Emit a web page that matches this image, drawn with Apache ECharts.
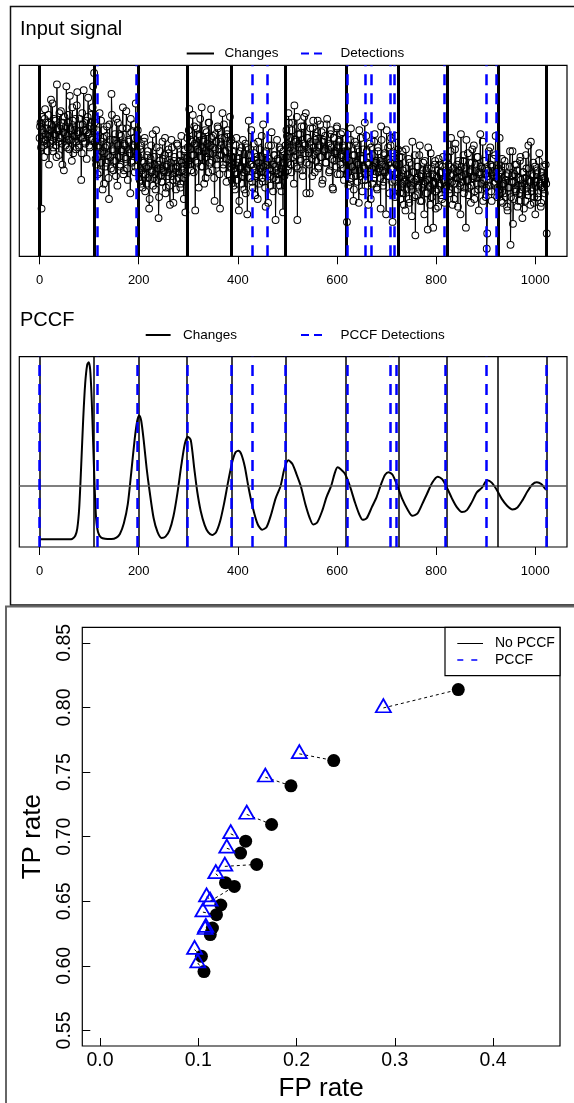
<!DOCTYPE html>
<html><head><meta charset="utf-8">
<script src="https://cdn.jsdelivr.net/npm/echarts@6/dist/echarts.min.js"></script>
<style>html,body{margin:0;padding:0;background:#fff}#c{width:574px;height:1103px}</style>
</head><body><div id="c"></div>
<script>
// ---------- data ----------
// input signal: samples at even x (0,2,...,1022) and at odd x (1,3,...,1023)
const signalEven = [
62,70,25,66,58,72,61,67,55,74,63,59,69,80,57,64,71,52,66,60,75,62,68,48,65,73,58,89,63,70,56,67,61,78,54,66,72,60,86,64,57,69,40,75,62,66,59,71,65,83,58,68,74,61,89,
96,60,48,66,52,58,44,71,55,62,38,57,49,68,53,30,61,46,74,55,50,64,42,59,70,52,47,63,56,78,45,58,51,67,40,60,54,72,49,57,62,44,80,53,66,
52,40,58,45,36,49,62,43,38,55,47,30,51,44,64,41,48,35,57,46,20,50,42,39,60,45,53,33,47,44,56,37,49,61,42,28,52,46,40,58,44,50,36,63,47,41,55,23,48,
62,50,77,56,45,60,53,68,24,58,49,64,55,72,47,57,61,38,66,52,59,44,70,54,77,50,63,41,56,60,48,67,53,25,58,62,46,69,55,51,64,43,57,73,52,
40,52,46,35,58,43,49,24,55,47,38,61,44,50,33,57,46,71,41,53,48,36,59,45,42,52,30,49,56,44,63,39,47,54,26,50,43,58,46,37,65,48,41,53,19,45,51,40,57,44,34,49,55,42,
58,66,49,75,55,62,44,70,52,79,60,47,19,64,57,51,68,45,59,73,54,33,62,56,48,67,58,42,71,53,61,50,65,46,57,69,52,38,60,55,63,49,72,56,44,58,66,51,35,62,54,47,68,57,60,43,64,52,58,40,55,
50,18,44,58,39,67,47,53,35,60,42,49,56,28,45,62,40,51,47,70,43,55,37,48,59,30,46,53,41,64,49,36,57,44,50,25,61,45,39,54,47,66,42,51,33,58,46,18,52,40,63,48,44,
36,48,30,42,55,33,39,24,46,38,51,28,41,35,60,44,31,11,40,47,37,53,29,43,36,49,22,39,45,33,57,40,27,46,38,15,42,50,34,41,26,48,37,44,30,52,39,35,43,
44,52,35,47,62,39,43,30,56,41,48,26,45,37,64,42,50,33,46,15,40,54,36,44,28,49,41,58,34,45,38,52,24,43,47,35,60,40,46,31,4,42,55,37,48,29,44,51,39,63,41,36,
40,62,33,45,28,38,50,31,42,24,36,47,6,39,55,30,43,35,48,26,41,33,52,37,20,44,38,29,46,34,58,40,27,43,36,49,31,22,39,45,33,54,37,28,42,35,47,40,38
];
const signalOdd = [
68,57,73,60,52,77,64,59,70,48,66,82,61,55,72,63,58,90,67,53,62,76,59,70,45,64,68,57,74,61,84,66,50,71,60,63,56,79,65,58,72,62,54,69,87,60,66,51,73,64,57,70,62,78,67,
70,51,62,43,57,75,49,60,35,66,54,47,63,58,41,69,52,85,56,45,61,50,72,37,58,64,48,55,67,43,59,52,76,46,61,56,33,65,50,58,69,47,55,62,51,
44,56,38,50,43,60,34,47,53,41,25,49,58,45,37,52,43,66,40,48,31,55,46,39,51,44,62,36,48,42,54,27,46,57,40,50,44,35,59,47,41,53,38,49,45,30,56,43,51,
57,66,48,61,53,74,44,59,50,67,56,36,63,52,78,47,60,55,41,65,54,70,49,58,62,45,57,29,64,51,68,56,43,60,53,75,48,62,55,39,66,51,59,47,61,
48,37,55,44,62,40,51,29,46,57,42,50,35,59,45,22,53,41,48,66,39,47,54,32,50,43,60,38,46,52,41,69,44,36,55,48,28,51,42,58,45,34,53,47,40,61,43,50,37,56,46,23,49,44,
52,63,45,70,57,48,66,55,38,61,53,73,46,59,64,50,56,42,68,58,75,49,62,54,33,60,51,67,57,44,63,55,71,47,58,52,65,40,61,56,49,69,53,59,45,64,57,36,62,50,55,67,43,58,61,48,53,65,46,57,51,
43,55,37,50,61,41,47,29,53,45,58,39,48,66,42,51,34,56,46,40,63,49,27,52,44,57,38,47,60,43,50,35,55,46,41,68,48,37,53,44,22,51,57,42,49,62,39,46,54,31,48,43,56,
41,33,52,38,45,27,40,56,35,43,30,49,37,21,44,39,53,32,41,47,36,58,42,29,45,38,50,33,40,14,46,37,54,31,43,39,48,25,42,35,51,38,44,32,47,40,28,45,37,
39,48,33,55,42,27,46,38,59,44,35,50,41,22,47,39,53,36,43,61,40,32,49,45,37,56,42,30,48,41,52,35,44,64,38,46,29,50,43,36,12,45,40,57,34,47,42,38,53,44,31,46,
35,44,29,51,38,33,47,40,26,43,36,55,31,42,17,39,48,34,45,37,29,50,40,35,44,25,41,53,36,32,46,39,60,34,42,28,47,37,43,31,50,38,26,44,36,41,33,48,12
];
const changes = [0, 110, 200, 297, 387, 496, 618, 724, 822, 925, 1023];
const detections = [116, 196, 430, 460, 621, 656, 670, 708, 715, 817, 902, 921];
const pccfDetections = [0, 116, 197, 298, 386, 430, 496, 620, 708, 719, 818, 902, 1022];
const pccfX = [0,10,20,30,40,50,60,66,72,76,80,84,88,92,96,99,102,105,108,111,114,118,124,132,145,155,162,170,178,185,192,197,201,205,210,216,222,230,238,246,254,262,270,278,286,293,299,305,312,318,325,333,340,348,356,364,372,380,388,395,401,407,414,421,430,440,449,458,467,476,486,494,502,510,518,527,536,545,552,560,570,579,588,595,601,608,616,626,636,645,652,660,670,680,690,697,704,712,722,732,742,752,762,772,782,792,803,812,822,832,842,852,862,872,882,892,903,912,922,932,943,954,964,974,984,994,1003,1012,1020,1023];
const pccfY = [0,0,0,0,0,0,0,0.003,0.02,0.06,0.18,0.42,0.68,0.88,0.985,1.0,0.96,0.8,0.55,0.3,0.12,0.04,0.01,0.003,0.002,0.01,0.03,0.09,0.2,0.38,0.57,0.67,0.70,0.67,0.56,0.40,0.27,0.12,0.04,0.008,0.015,0.05,0.13,0.26,0.42,0.54,0.58,0.56,0.40,0.27,0.16,0.08,0.04,0.024,0.04,0.1,0.2,0.32,0.43,0.49,0.5,0.48,0.41,0.3,0.18,0.085,0.054,0.07,0.14,0.23,0.30,0.40,0.446,0.425,0.37,0.30,0.2,0.12,0.083,0.095,0.16,0.24,0.30,0.37,0.407,0.395,0.37,0.30,0.21,0.14,0.11,0.12,0.18,0.24,0.32,0.365,0.379,0.365,0.3,0.225,0.17,0.133,0.145,0.2,0.26,0.32,0.354,0.34,0.29,0.23,0.18,0.154,0.165,0.21,0.265,0.29,0.333,0.32,0.28,0.23,0.19,0.169,0.18,0.22,0.27,0.31,0.322,0.312,0.285,0.279];
const pccfThreshold = 0.3;
const signalTicks = [0, 200, 400, 600, 800, 1000];

const noPccfFP = [0.3645,0.2378,0.1943,0.1746,0.1482,0.143,0.1594,0.1277,0.1229,0.1367,0.1185,0.1144,0.1122,0.1032,0.1058];
const noPccfTP = [0.8138,0.7589,0.7393,0.7094,0.6965,0.6873,0.6785,0.6644,0.6471,0.6615,0.6396,0.6293,0.6242,0.6074,0.5956];
const pccfFP = [0.2883,0.2028,0.1682,0.1493,0.133,0.129,0.127,0.1178,0.1084,0.112,0.1047,0.1077,0.107,0.0962,0.0995];
const pccfTP = [0.7996,0.7641,0.746,0.7172,0.7022,0.691,0.677,0.6713,0.6533,0.650,0.6416,0.6296,0.628,0.6126,0.6022];
const fpTicks = [0, 0.1, 0.2, 0.3, 0.4];
const tpTicks = [0.55, 0.6, 0.65, 0.7, 0.75, 0.8, 0.85];

// ---------- chart ----------
const FONT = 'Liberation Sans, Arial, Helvetica, sans-serif';
const chart = echarts.init(document.getElementById('c'), null, {renderer: 'canvas'});
const R_PT = 3.4; // circle radius used to leave gaps like R's type="b"

const signalData = [];
for (let i = 0; i < signalEven.length; i++) {
  signalData.push([2 * i, signalEven[i]]);
  if (i < signalOdd.length) signalData.push([2 * i + 1, signalOdd[i]]);
}

function vlines(name, xs, xi, color, width, type, z) {
  return {
    name: name, type: 'line', xAxisIndex: xi, yAxisIndex: xi, data: [], z: z,
    markLine: {
      silent: true, symbol: ['none', 'none'], label: {show: false}, animation: false,
      lineStyle: {color: color, width: width, type: type, opacity: 1},
      emphasis: {disabled: true},
      data: xs.map(v => ({xAxis: v}))
    }
  };
}

const signalAxisX = (gi) => ({
  gridIndex: gi, type: 'value', min: -40.92, max: 1063.92,
  axisLine: {show: false, onZero: false}, splitLine: {show: false},
  axisTick: {show: true, length: 8, customValues: signalTicks, lineStyle: {color: '#000', width: 1}},
  axisLabel: {show: true, customValues: signalTicks, fontSize: 13, color: '#000', margin: 18, fontFamily: FONT, formatter: v => String(v)}
});

const option = {
  animation: false,
  backgroundColor: '#fff',
  grid: [
    {left: 19.3, top: 65.3, width: 547.7, height: 191, show: true, borderColor: '#000', borderWidth: 1.2, backgroundColor: 'transparent'},
    {left: 19.3, top: 356.7, width: 547.7, height: 190.3, show: true, borderColor: '#000', borderWidth: 1.2, backgroundColor: 'transparent'},
    {left: 82.3, top: 627.3, width: 477.7, height: 419.4, show: true, borderColor: '#000', borderWidth: 1.2, backgroundColor: 'transparent'}
  ],
  xAxis: [
    signalAxisX(0),
    signalAxisX(1),
    {
      gridIndex: 2, type: 'value', min: -0.018, max: 0.468,
      axisLine: {show: false, onZero: false}, splitLine: {show: false},
      axisTick: {show: true, inside: true, length: 8, customValues: fpTicks, lineStyle: {color: '#000'}},
      axisLabel: {customValues: fpTicks, fontSize: 19.5, color: '#000', margin: 5, fontFamily: FONT, formatter: v => v.toFixed(1)},
      name: 'FP rate', nameLocation: 'middle', nameGap: 30,
      nameTextStyle: {fontSize: 26, color: '#000', fontFamily: FONT}
    }
  ],
  yAxis: [
    {gridIndex: 0, type: 'value', min: 0, max: 100, show: false, axisLine: {onZero: false}},
    {gridIndex: 1, type: 'value', min: -0.0435, max: 1.0316, show: false, axisLine: {onZero: false}},
    {
      gridIndex: 2, type: 'value', min: 0.538, max: 0.862,
      axisLine: {show: false, onZero: false}, splitLine: {show: false},
      axisTick: {show: true, inside: true, length: 8, customValues: tpTicks, lineStyle: {color: '#000'}},
      axisLabel: {customValues: tpTicks, rotate: 90, fontSize: 19.5, color: '#000', margin: 8, fontFamily: FONT, formatter: v => v.toFixed(2)},
      name: 'TP rate', nameLocation: 'middle', nameGap: 36, nameRotate: 90,
      nameTextStyle: {fontSize: 26, color: '#000', fontFamily: FONT}
    }
  ],
  series: [
    {
      // connecting segments drawn like R's type="b" (gaps around each point)
      name: 'Input signal', type: 'custom', xAxisIndex: 0, yAxisIndex: 0, z: 2, clip: true, silent: true,
      data: signalData,
      renderItem: function (params, api) {
        const i = params.dataIndex;
        if (i >= signalData.length - 1) return null;
        const p1 = api.coord(signalData[i]);
        const p2 = api.coord(signalData[i + 1]);
        const dx = p2[0] - p1[0], dy = p2[1] - p1[1];
        const d = Math.sqrt(dx * dx + dy * dy);
        if (d <= 2 * R_PT) return null;
        const ux = dx / d, uy = dy / d;
        return {
          type: 'line',
          shape: {x1: p1[0] + ux * R_PT, y1: p1[1] + uy * R_PT, x2: p2[0] - ux * R_PT, y2: p2[1] - uy * R_PT},
          style: {stroke: '#000', lineWidth: 1}
        };
      }
    },
    {
      name: 'Input signal points', type: 'scatter', xAxisIndex: 0, yAxisIndex: 0, z: 2, silent: true,
      data: signalData, large: false,
      symbol: 'circle', symbolSize: 2 * R_PT,
      itemStyle: {color: 'rgba(0,0,0,0)', borderColor: '#000', borderWidth: 1, opacity: 1},
      emphasis: {disabled: true}
    },
    vlines('Changes', changes, 0, '#000', 3, 'solid', 3),
    vlines('Detections', detections, 0, '#0000ff', 2.5, [11, 8], 4),
    {
      name: 'PCCF', type: 'line', xAxisIndex: 1, yAxisIndex: 1, z: 2,
      data: pccfX.map((x, i) => [x, pccfY[i]]),
      symbol: 'none', smooth: 0.25,
      lineStyle: {color: '#000', width: 2},
      emphasis: {disabled: true},
      markLine: {
        silent: true, symbol: ['none', 'none'], label: {show: false},
        lineStyle: {color: '#555', width: 1.6, type: 'solid'},
        data: [{yAxis: pccfThreshold}]
      }
    },
    vlines('Changes ', changes, 1, '#000', 1.5, 'solid', 3),
    vlines('PCCF Detections', pccfDetections, 1, '#0000ff', 2.5, [11, 8], 4),
    {
      name: 'pairs', type: 'lines', coordinateSystem: 'cartesian2d', xAxisIndex: 2, yAxisIndex: 2, z: 2,
      polyline: false, silent: true,
      lineStyle: {color: '#000', width: 1, type: [3, 3], opacity: 1, curveness: 0},
      data: pccfFP.map((x, i) => ({coords: [[x, pccfTP[i]], [noPccfFP[i], noPccfTP[i]]]}))
    },
    {
      name: 'No PCCF', type: 'scatter', xAxisIndex: 2, yAxisIndex: 2, z: 3,
      data: noPccfFP.map((x, i) => [x, noPccfTP[i]]),
      symbol: 'circle', symbolSize: 13,
      itemStyle: {color: '#000', opacity: 1}
    },
    {
      name: 'PCCF ', type: 'scatter', xAxisIndex: 2, yAxisIndex: 2, z: 4,
      data: pccfFP.map((x, i) => [x, pccfTP[i]]),
      symbol: 'triangle', symbolSize: [15, 13], symbolOffset: [0, -2.2],
      itemStyle: {color: 'rgba(0,0,0,0)', borderColor: '#0000ff', borderWidth: 1.8, opacity: 1}
    }
  ],
  graphic: [
    // outer frames
    {type: 'rect', shape: {x: 10.5, y: 6.5, width: 600, height: 598.5}, style: {fill: 'none', stroke: '#111', lineWidth: 1.5}, silent: true, z: 0},
    {type: 'rect', shape: {x: 6, y: 606.5, width: 600, height: 600}, style: {fill: 'none', stroke: '#666', lineWidth: 2}, silent: true, z: 0},
    // titles
    {type: 'text', x: 20, y: 29.8, style: {text: 'Input signal', font: '20px ' + FONT, fill: '#000', verticalAlign: 'middle'}, silent: true},
    {type: 'text', x: 20, y: 320.8, style: {text: 'PCCF', font: '20px ' + FONT, fill: '#000', verticalAlign: 'middle'}, silent: true},
    // legend panel 1
    {type: 'line', shape: {x1: 186.7, y1: 53.5, x2: 214, y2: 53.5}, style: {stroke: '#000', lineWidth: 2}, silent: true},
    {type: 'text', x: 224.4, y: 53.3, style: {text: 'Changes', font: '13.5px ' + FONT, fill: '#000', verticalAlign: 'middle'}, silent: true},
    {type: 'line', shape: {x1: 301, y1: 53.5, x2: 322, y2: 53.5}, style: {stroke: '#0000ff', lineWidth: 2.2, lineDash: [8, 5]}, silent: true},
    {type: 'text', x: 340.4, y: 53.3, style: {text: 'Detections', font: '13.5px ' + FONT, fill: '#000', verticalAlign: 'middle'}, silent: true},
    // legend panel 2
    {type: 'line', shape: {x1: 145.7, y1: 335, x2: 170.6, y2: 335}, style: {stroke: '#000', lineWidth: 2}, silent: true},
    {type: 'text', x: 183, y: 335, style: {text: 'Changes', font: '13.5px ' + FONT, fill: '#000', verticalAlign: 'middle'}, silent: true},
    {type: 'line', shape: {x1: 301, y1: 335, x2: 322, y2: 335}, style: {stroke: '#0000ff', lineWidth: 2.2, lineDash: [8, 5]}, silent: true},
    {type: 'text', x: 340.4, y: 335, style: {text: 'PCCF Detections', font: '13.5px ' + FONT, fill: '#000', verticalAlign: 'middle'}, silent: true},
    // legend panel 3
    {type: 'rect', shape: {x: 445, y: 627.3, width: 115, height: 48.4}, style: {fill: '#fff', stroke: '#000', lineWidth: 1.2}, silent: true, z: 100},
    {type: 'line', shape: {x1: 457.3, y1: 643.5, x2: 483, y2: 643.5}, style: {stroke: '#000', lineWidth: 1}, silent: true, z: 101},
    {type: 'text', x: 495, y: 643, style: {text: 'No PCCF', font: '14px ' + FONT, fill: '#000', verticalAlign: 'middle'}, silent: true, z: 101},
    {type: 'line', shape: {x1: 457.3, y1: 660, x2: 483, y2: 660}, style: {stroke: '#0000ff', lineWidth: 1.5, lineDash: [6, 8]}, silent: true, z: 101},
    {type: 'text', x: 495, y: 660, style: {text: 'PCCF', font: '14px ' + FONT, fill: '#000', verticalAlign: 'middle'}, silent: true, z: 101}
  ]
};
chart.setOption(option);
</script>
</body></html>
